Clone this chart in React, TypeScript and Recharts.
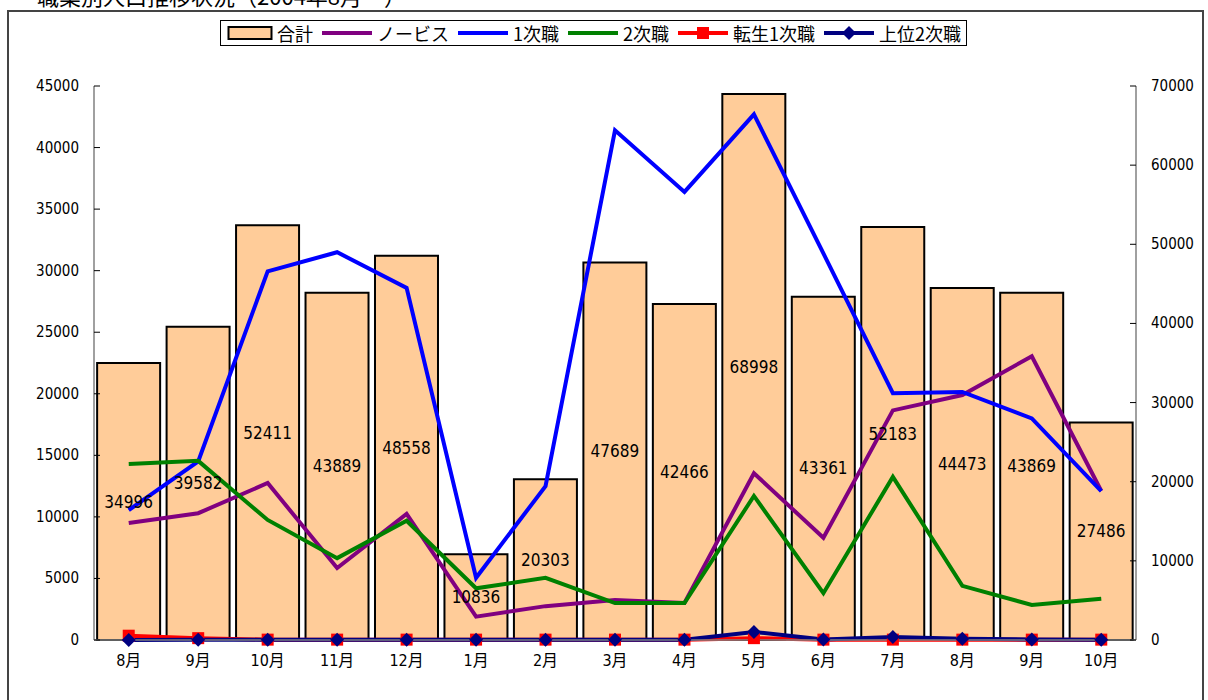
import React from 'react';
import { ComposedChart, Bar, Line, XAxis, YAxis, LabelList } from 'recharts';

const months = ['8月', '9月', '10月', '11月', '12月', '1月', '2月', '3月', '4月', '5月', '6月', '7月', '8月', '9月', '10月'];
const total = [34996, 39582, 52411, 43889, 48558, 10836, 20303, 47689, 42466, 68998, 43361, 52183, 44473, 43869, 27486];
const novice = [9500, 10300, 12750, 5850, 10250, 1900, 2750, 3250, 3000, 13550, 8300, 18650, 19900, 23050, 12100];
const first = [10550, 14500, 29950, 31500, 28600, 5050, 12500, 41400, 36400, 42700, 31400, 20050, 20150, 18000, 12100];
const second = [14300, 14550, 9750, 6650, 9690, 4200, 5050, 3000, 3000, 11700, 3800, 13250, 4400, 2850, 3350];
const rebirth1 = [350, 150, 30, 30, 30, 30, 30, 30, 30, 150, 30, 30, 30, 30, 30];
const upper2 = [0, 30, 30, 30, 30, 30, 30, 30, 30, 650, 50, 250, 100, 50, 30];

const leftTicks = [0, 5000, 10000, 15000, 20000, 25000, 30000, 35000, 40000, 45000];
const rightTicks = [0, 10000, 20000, 30000, 40000, 50000, 60000, 70000];

const data = months.map((m, i) => ({
  m,
  total: total[i],
  novice: novice[i],
  first: first[i],
  second: second[i],
  rebirth1: rebirth1[i],
  upper2: upper2[i],
}));

const NUM_FONT = "'DejaVu Sans Condensed', 'Liberation Sans Narrow', 'DejaVu Sans', sans-serif";
const JP_FONT = "'Noto Sans CJK JP', 'Noto Sans', sans-serif";
const MIX_FONT = "'DejaVu Sans Condensed', 'Noto Sans CJK JP', sans-serif";

const LeftTick = (props: any) => {
  const { x, y, payload } = props;
  return (
    <g>
      <line x1={x + 15} x2={x + 21} y1={y} y2={y} stroke="#000" strokeWidth={1} />
      <text x={x} y={y} dy={5} textAnchor="end" fontSize={15} fontFamily={NUM_FONT} fill="#000">
        {payload.value}
      </text>
    </g>
  );
};

const RightTick = (props: any) => {
  const { x, y, payload } = props;
  return (
    <g>
      <line x1={x - 15} x2={x - 21} y1={y} y2={y} stroke="#000" strokeWidth={1} />
      <text x={x} y={y} dy={5} textAnchor="start" fontSize={15} fontFamily={NUM_FONT} fill="#000">
        {payload.value}
      </text>
    </g>
  );
};

const MonthTick = (props: any) => {
  const { x, y, payload } = props;
  return (
    <text x={x} y={y} dy={14} textAnchor="middle" fontSize={16} fontFamily={MIX_FONT} fill="#000">
      {payload.value}
    </text>
  );
};

const SquareDot = (props: any) => {
  const { cx, cy, index } = props;
  if (cx == null || cy == null) return null;
  return <rect key={`sq-${index}`} x={cx - 6} y={cy - 6} width={12} height={12} fill="#FF0000" />;
};

const DiamondDot = (props: any) => {
  const { cx, cy, index } = props;
  if (cx == null || cy == null) return null;
  return (
    <polygon
      key={`dm-${index}`}
      points={`${cx},${cy - 7} ${cx + 7},${cy} ${cx},${cy + 7} ${cx - 7},${cy}`}
      fill="#000080"
    />
  );
};

const legendItems = [
  { name: '合計', type: 'rect', color: '#FFCC99' },
  { name: 'ノービス', type: 'line', color: '#800080' },
  { name: '1次職', type: 'line', color: '#0000FF' },
  { name: '2次職', type: 'line', color: '#008000' },
  { name: '転生1次職', type: 'square', color: '#FF0000' },
  { name: '上位2次職', type: 'diamond', color: '#000080' },
];

const LegendBox = () => (
  <div
    style={{
      position: 'absolute',
      left: 220,
      top: 20,
      display: 'flex',
      alignItems: 'center',
      border: '1px solid #000',
      background: '#fff',
      height: 26,
      padding: '0 5px 0 6px',
      boxSizing: 'border-box',
      fontFamily: JP_FONT,
      fontSize: 18,
      color: '#000',
      whiteSpace: 'nowrap',
    }}
  >
    {legendItems.map((it, i) => (
      <div key={i} style={{ display: 'flex', alignItems: 'center', marginRight: i === legendItems.length - 1 ? 0 : 8 }}>
        <svg width={it.type === 'rect' ? 46 : 52} height={18} style={{ marginRight: 4 }}>
          {it.type === 'rect' ? (
            <rect x={1.5} y={3} width={43} height={12} fill={it.color} stroke="#000" strokeWidth={2} />
          ) : (
            <>
              <line x1={1} x2={51} y1={9} y2={9} stroke={it.color} strokeWidth={4} />
              {it.type === 'square' && <rect x={20} y={3} width={12} height={12} fill={it.color} />}
              {it.type === 'diamond' && <polygon points="26,2 33,9 26,16 19,9" fill={it.color} />}
            </>
          )}
        </svg>
        <span style={{ lineHeight: '20px' }}>{it.name}</span>
      </div>
    ))}
  </div>
);

export default function App() {
  return (
    <div style={{ position: 'absolute', left: 0, top: 0, width: 1208, height: 700, overflow: 'hidden', background: '#fff' }}>
      <div
        style={{
          position: 'absolute',
          left: 37,
          top: -17,
          fontFamily: JP_FONT,
          fontSize: 22,
          lineHeight: '24px',
          color: '#000',
          whiteSpace: 'nowrap',
        }}
      >
        職業別人口推移状況（2004年8月～）
      </div>
      <div
        style={{
          position: 'absolute',
          left: 7,
          top: 10,
          width: 1197,
          height: 720,
          border: '2px solid #444',
          boxSizing: 'border-box',
        }}
      />
      <div style={{ position: 'absolute', left: 0, top: 0 }}>
        <ComposedChart
          width={1208}
          height={700}
          data={data}
          margin={{ top: 86, right: 12, bottom: 30, left: 34 }}
          barCategoryGap="4.5%"
        >
          <XAxis
            dataKey="m"
            xAxisId="x"
            height={30}
            axisLine={{ stroke: '#808080', strokeWidth: 1.5 }}
            tickLine={false}
            tickSize={0}
            tickMargin={12}
            tick={<MonthTick />}
            interval={0}
          />
          <YAxis
            yAxisId="left"
            orientation="left"
            width={60}
            domain={[0, 45000]}
            ticks={leftTicks}
            axisLine={{ stroke: '#808080', strokeWidth: 1.5 }}
            tickLine={false}
            tickSize={0}
            tickMargin={15}
            tick={<LeftTick />}
            interval={0}
          />
          <YAxis
            yAxisId="right"
            orientation="right"
            width={60}
            domain={[0, 70000]}
            ticks={rightTicks}
            axisLine={{ stroke: '#808080', strokeWidth: 1.5 }}
            tickLine={false}
            tickSize={0}
            tickMargin={15}
            tick={<RightTick />}
            interval={0}
          />
          <Bar
            dataKey="total"
            name="合計"
            xAxisId="x"
            yAxisId="right"
            fill="#FFCC99"
            stroke="#000"
            strokeWidth={2}
            isAnimationActive={false}
          >
            <LabelList dataKey="total" position="center" fill="#000" fontSize={17} fontFamily={NUM_FONT} />
          </Bar>
          <Line dataKey="novice" name="ノービス" xAxisId="x" yAxisId="left" stroke="#800080" strokeWidth={4} dot={false} isAnimationActive={false} />
          <Line dataKey="first" name="1次職" xAxisId="x" yAxisId="left" stroke="#0000FF" strokeWidth={4} dot={false} isAnimationActive={false} />
          <Line dataKey="second" name="2次職" xAxisId="x" yAxisId="left" stroke="#008000" strokeWidth={4} dot={false} isAnimationActive={false} />
          <Line dataKey="rebirth1" name="転生1次職" xAxisId="x" yAxisId="left" stroke="#FF0000" strokeWidth={4} dot={<SquareDot />} activeDot={false} isAnimationActive={false} />
          <Line dataKey="upper2" name="上位2次職" xAxisId="x" yAxisId="left" stroke="#000080" strokeWidth={4} dot={<DiamondDot />} activeDot={false} isAnimationActive={false} />
        </ComposedChart>
      </div>
      <LegendBox />
    </div>
  );
}
